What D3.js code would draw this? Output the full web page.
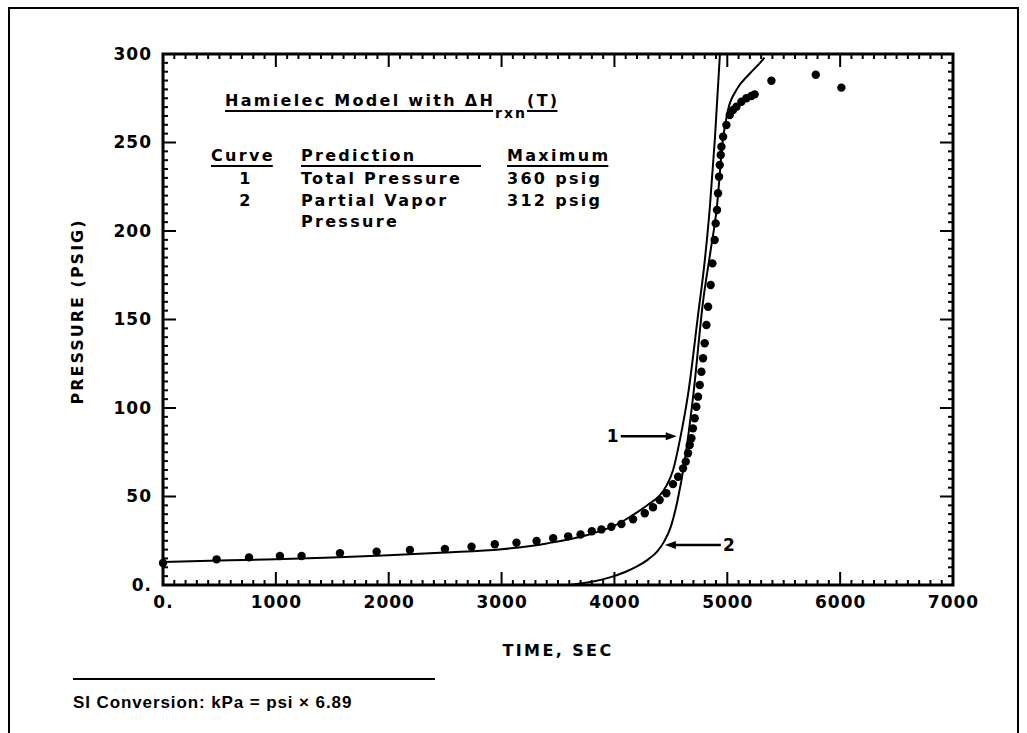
<!DOCTYPE html>
<html>
<head>
<meta charset="utf-8">
<script src="https://cdn.jsdelivr.net/npm/d3@7"></script>
<style>
  body { margin: 0; background: #fff; }
  svg { display: block; }
  text { font-family: "DejaVu Sans", sans-serif; font-weight: bold; fill: #000; }
</style>
</head>
<body>
<div class="canvas"></div>
<script>
// curve 1 - total pressure prediction
const curve1Time = [0, 500, 1000, 1500, 2000, 2500, 3000, 3400, 3800, 4000, 4100, 4200, 4300, 4400, 4460, 4520, 4580, 4660, 4740, 4800, 4845, 4890, 4935];
const curve1Pres = [13, 13.8, 14.6, 15.6, 16.8, 18.3, 20.2, 23.5, 29, 33.5, 37, 41, 45.5, 50.5, 56, 65, 82, 111, 152, 183, 213, 252, 300];

// curve 2 - partial vapor pressure prediction
const curve2Time = [3600, 3800, 3960, 4100, 4200, 4300, 4380, 4440, 4500, 4560, 4620, 4700, 4785, 4850, 4907, 4960, 5005, 5084, 5200, 5290, 5330];
const curve2Pres = [0, 1.8, 4.3, 7.5, 10.5, 14.5, 19, 24.5, 33, 48, 69, 108, 160, 188, 213, 251, 268, 280, 289, 295, 298];

// measured data
const dataTime = [0, 475, 762, 1036, 1228, 1568, 1893, 2188, 2498, 2734, 2940, 3132, 3310, 3457, 3590, 3700, 3800, 3885, 3973, 4062, 4165, 4269, 4342, 4401, 4460, 4519, 4564, 4608, 4632, 4652, 4667, 4682, 4696, 4711, 4726, 4741, 4756, 4771, 4785, 4800, 4815, 4830, 4853, 4868, 4888, 4897, 4909, 4918, 4927, 4933, 4942, 4948, 4963, 4992, 5022, 5051, 5081, 5125, 5169, 5214, 5243, 5391, 5784, 6011];
const dataPres = [12.4, 14.5, 15.6, 16.4, 16.4, 17.9, 18.8, 19.8, 20.3, 21.6, 23, 23.9, 24.9, 26.4, 27.5, 28.5, 30.4, 31.4, 32.9, 34.5, 37.1, 40.5, 43.9, 48, 51.8, 57, 61.2, 65.9, 69.7, 74.4, 79.1, 82.9, 88.5, 94.2, 100.7, 106.4, 113, 120.5, 128.1, 136.6, 146.9, 157.2, 169.5, 181.7, 194.9, 204.3, 211.9, 221.3, 230.7, 237.3, 242.9, 247.6, 253.3, 259.9, 265.5, 268.4, 270.2, 273, 275, 276.3, 277.2, 284.9, 288.3, 281];

// ticks
const xTicks = [0, 1000, 2000, 3000, 4000, 5000, 6000, 7000];
const yTicks = [0, 50, 100, 150, 200, 250, 300];
const xMinor = d3.range(0, 7001, 100);
const yMinor = d3.range(0, 301, 5);

// legend table
const legendTitle = "Hamielec Model with \u0394H";
const legendCurve = ["1", "2"];
const legendPred = [["Total Pressure"], ["Partial Vapor", "Pressure"]];
const legendMax = ["360 psig", "312 psig"];

// curve labels with arrows
const annoLabel = ["1", "2"];
const annoTime = [4570, 4429];
const annoPres = [84, 22.6];
const annoSide = [-1, 1]; // label left (-1) or right (1) of the tip

const W = 1027, H = 733;
const plot = { left: 163, right: 953, top: 54, bottom: 585 };

const svg = d3.select(".canvas").append("svg").attr("width", W).attr("height", H);

// page border (open at the bottom)
svg.append("path")
  .attr("d", `M9,${H} V8 H1018 V${H}`)
  .attr("fill", "none").attr("stroke", "#000").attr("stroke-width", 2);

const x = d3.scaleLinear().domain([0, 7000]).range([plot.left, plot.right]);
const y = d3.scaleLinear().domain([0, 300]).range([plot.bottom, plot.top]);

const fmt = (d) => (d === 0 ? "0." : d3.format("d")(d));

// inward ticks on all four sides
const ticks = svg.append("g").attr("stroke", "#000").attr("stroke-width", 2);
const majorLen = 13, minorLen = 5;
const lenX = (v) => (xTicks.includes(v) ? majorLen : minorLen);
const lenY = (v) => (yTicks.includes(v) ? majorLen : minorLen);

ticks.selectAll(".tb").data(xMinor).enter().append("line")
  .attr("x1", (d) => x(d)).attr("x2", (d) => x(d))
  .attr("y1", plot.bottom).attr("y2", (d) => plot.bottom - lenX(d));
ticks.selectAll(".tt").data(xMinor).enter().append("line")
  .attr("x1", (d) => x(d)).attr("x2", (d) => x(d))
  .attr("y1", plot.top).attr("y2", (d) => plot.top + lenX(d));
ticks.selectAll(".tl").data(yMinor).enter().append("line")
  .attr("y1", (d) => y(d)).attr("y2", (d) => y(d))
  .attr("x1", plot.left).attr("x2", (d) => plot.left + lenY(d));
ticks.selectAll(".tr").data(yMinor).enter().append("line")
  .attr("y1", (d) => y(d)).attr("y2", (d) => y(d))
  .attr("x1", plot.right).attr("x2", (d) => plot.right - lenY(d));

// tick labels through d3 axes
const styleAxis = (g) => {
  g.select(".domain").remove();
  g.selectAll(".tick line").remove();
  g.attr("font-family", null).attr("font-size", null);
  g.selectAll("text").attr("font-size", 17).attr("letter-spacing", 1);
};
svg.append("g").attr("transform", `translate(0,${plot.bottom})`)
  .call(d3.axisBottom(x).tickValues(xTicks).tickSize(0).tickPadding(11).tickFormat(fmt))
  .call(styleAxis);
svg.append("g").attr("transform", `translate(${plot.left},0)`)
  .call(d3.axisLeft(y).tickValues(yTicks).tickSize(0).tickPadding(11).tickFormat(fmt))
  .call(styleAxis);

// frame
svg.append("rect")
  .attr("x", plot.left).attr("y", plot.top)
  .attr("width", plot.right - plot.left).attr("height", plot.bottom - plot.top)
  .attr("fill", "none").attr("stroke", "#000").attr("stroke-width", 3);

// axis titles
svg.append("text")
  .attr("x", (plot.left + plot.right) / 2).attr("y", 656)
  .attr("text-anchor", "middle").attr("font-size", 16).attr("letter-spacing", 2.4)
  .text("TIME, SEC");

svg.append("text")
  .attr("transform", `translate(83,${(plot.top + plot.bottom) / 2 - 8}) rotate(-90)`)
  .attr("text-anchor", "middle").attr("font-size", 16).attr("letter-spacing", 2)
  .text("PRESSURE (PSIG)");

// clip for the curves
svg.append("clipPath").attr("id", "clip")
  .append("rect")
  .attr("x", plot.left).attr("y", plot.top)
  .attr("width", plot.right - plot.left).attr("height", plot.bottom - plot.top);

const line = d3.line().x((d) => x(d[0])).y((d) => y(d[1])).curve(d3.curveMonotoneX);

const curves = [d3.zip(curve1Time, curve1Pres), d3.zip(curve2Time, curve2Pres)];

svg.append("g").attr("clip-path", "url(#clip)")
  .selectAll("path")
  .data(curves)
  .enter()
  .append("path")
  .attr("d", line)
  .attr("fill", "none")
  .attr("stroke", "#000")
  .attr("stroke-width", 2);

// measured points
svg.append("g")
  .selectAll("circle")
  .data(d3.zip(dataTime, dataPres))
  .enter()
  .append("circle")
  .attr("cx", (d) => x(d[0]))
  .attr("cy", (d) => y(d[1]))
  .attr("r", 4.2)
  .attr("fill", "#000");

// curve labels with arrows
const arrowLen = 56;
annoLabel.forEach((lab, i) => {
  const tx = x(annoTime[i]) + annoSide[i] * 2, ty = y(annoPres[i]);
  const s = annoSide[i];
  const g = svg.append("g");
  g.append("line")
    .attr("x1", tx + s * 6).attr("y1", ty)
    .attr("x2", tx + s * arrowLen).attr("y2", ty)
    .attr("stroke", "#000").attr("stroke-width", 2.5);
  g.append("path")
    .attr("d", `M${tx},${ty} L${tx + s * 11},${ty - 4} L${tx + s * 11},${ty + 4} Z`)
    .attr("fill", "#000");
  g.append("text")
    .attr("x", tx + s * (arrowLen + 8)).attr("y", ty + 6)
    .attr("text-anchor", "middle").attr("font-size", 17)
    .text(lab);
});

// legend block
const lg = svg.append("g").attr("font-size", 16).attr("letter-spacing", 2.3);

const underline = (x1, x2, yy) =>
  lg.append("line").attr("x1", x1).attr("x2", x2).attr("y1", yy).attr("y2", yy)
    .attr("stroke", "#000").attr("stroke-width", 2);

const t1 = lg.append("text").attr("x", 225).attr("y", 106).text(legendTitle);
const t1w = t1.node().getComputedTextLength();
underline(225, 225 + t1w - 2, 111);
const sub = lg.append("text").attr("x", 225 + t1w).attr("y", 118).attr("font-size", 14).attr("letter-spacing", 2).text("rxn");
const subw = sub.node().getComputedTextLength();
const t2 = lg.append("text").attr("x", 225 + t1w + subw).attr("y", 106).text("(T)");
underline(225 + t1w + subw, 225 + t1w + subw + t2.node().getComputedTextLength() - 2, 111);

const colX = [211, 301, 507];
const headers = ["Curve", "Prediction", "Maximum"];
headers.forEach((h, i) => {
  const t = lg.append("text").attr("x", colX[i]).attr("y", 161).text(h);
  const w = t.node().getComputedTextLength();
  underline(colX[i], i === 1 ? 481 : colX[i] + w - 2, 166);
});

legendCurve.forEach((c, i) => {
  const yy = 184 + i * 22;
  lg.append("text").attr("x", 246).attr("y", yy).attr("text-anchor", "middle").text(c);
  legendPred[i].forEach((p, j) => {
    lg.append("text").attr("x", colX[1]).attr("y", yy + j * 21).text(p);
  });
  lg.append("text").attr("x", colX[2]).attr("y", yy).text(legendMax[i]);
});

// footer
svg.append("line")
  .attr("x1", 73).attr("x2", 435).attr("y1", 679).attr("y2", 679)
  .attr("stroke", "#000").attr("stroke-width", 2);
svg.append("text")
  .attr("x", 73).attr("y", 708)
  .style("font-family", "'Liberation Sans', Arial, sans-serif")
  .attr("font-size", 17).attr("letter-spacing", 0.9)
  .text("SI Conversion: kPa = psi \u00d7 6.89");
</script>
</body>
</html>
